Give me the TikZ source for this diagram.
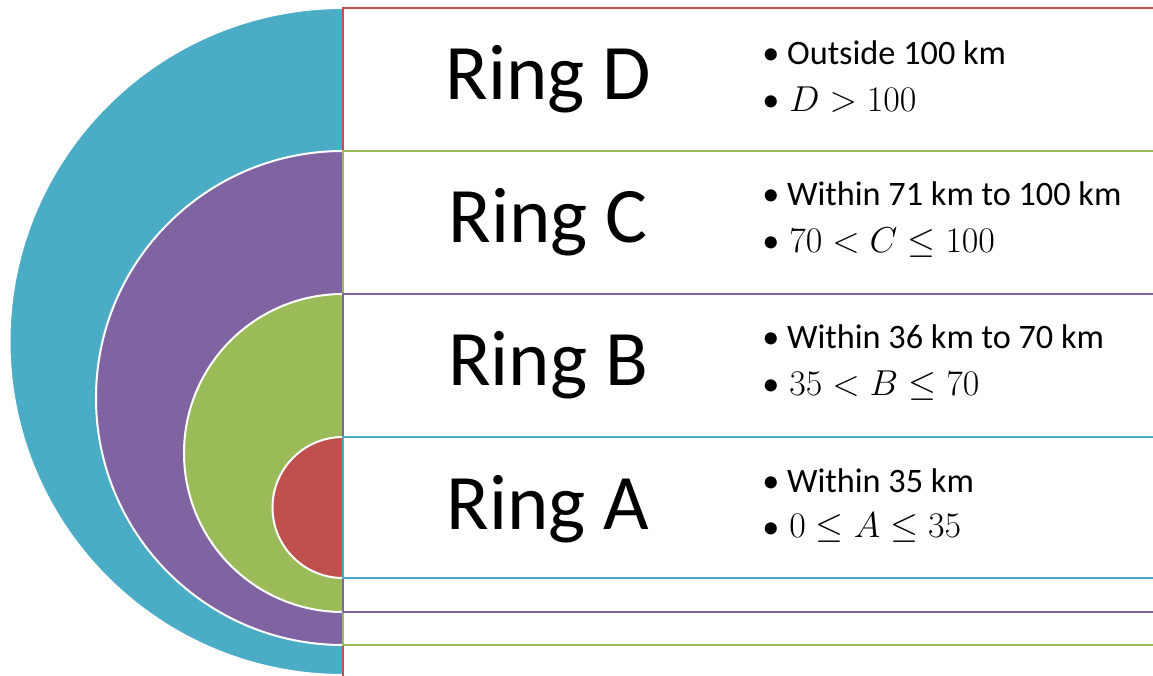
\documentclass[tikz,border=0pt]{standalone}
\usepackage{fontspec}
\setmainfont{Carlito}
\definecolor{cteal}{HTML}{4BACC6}
\definecolor{cred}{HTML}{C0504D}
\definecolor{cgreen}{HTML}{9BBB59}
\definecolor{cpurple}{HTML}{8064A2}
\tikzset{
  disc/.style={draw=white, line width=1.5pt},
  box/.style={fill=white, line width=1.5pt},
  ringlabel/.style={anchor=base, inner sep=0pt, font=\fontsize{59}{70}\selectfont},
  bullettxt/.style={anchor=base west, inner sep=0pt, font=\fontsize{25.7}{30}\selectfont},
  bulletmath/.style={anchor=base west, inner sep=0pt, scale=1.085, font=\fontsize{24.88}{30}\selectfont},
}
\begin{document}
\begin{tikzpicture}[x=0.75pt,y=0.75pt]
\useasboundingbox (0,0) rectangle (1153,675);
\begin{scope}
\clip (0,0) rectangle (1153,675);
% half discs
\fill[cteal, disc] (343,667) arc[start angle=90, end angle=270, radius=333.5] -- cycle;
\fill[cpurple, disc] (343,524) arc[start angle=90, end angle=270, radius=247] -- cycle;
\fill[cgreen, disc] (343,381) arc[start angle=90, end angle=270, radius=159] -- cycle;
\fill[cred, disc] (343,238) arc[start angle=90, end angle=270, radius=70.5] -- cycle;
% boxes
\draw[box, draw=cred] (343,667) rectangle (1170,-2);
\draw[box, draw=cgreen] (343,524) rectangle (1170,30);
\draw[box, draw=cpurple] (343,381) rectangle (1170,63);
\draw[box, draw=cteal] (343,238) rectangle (1170,97);
\end{scope}
% labels
\node[ringlabel] (ringD) at (548,575) {Ring D};
\node[ringlabel] (ringC) at (548,432) {Ring C};
\node[ringlabel] (ringB) at (548,289) {Ring B};
\node[ringlabel] (ringA) at (548,145) {Ring A};
% bullets
\node[bullettxt] (d1) at (762,610) {\textbullet\ Outside 100 km};
\node[bullettxt] (d2b) at (762,563) {\textbullet};
\node[bulletmath] (d2) at (789,563) {$D>100$};
\node[bullettxt] (c1) at (762,469) {\textbullet\ Within 71 km to 100 km};
\node[bullettxt] (c2b) at (762,422) {\textbullet};
\node[bulletmath] (c2) at (789,422) {$70<C\leq 100$};
\node[bullettxt] (b1) at (762,326) {\textbullet\ Within 36 km to 70 km};
\node[bullettxt] (b2b) at (762,279) {\textbullet};
\node[bulletmath] (b2) at (789,279) {$35<B\leq 70$};
\node[bullettxt] (a1) at (762,182) {\textbullet\ Within 35 km};
\node[bullettxt] (a2b) at (762,137) {\textbullet};
\node[bulletmath] (a2) at (789,137) {$0\leq A\leq 35$};
\end{tikzpicture}
\end{document}
